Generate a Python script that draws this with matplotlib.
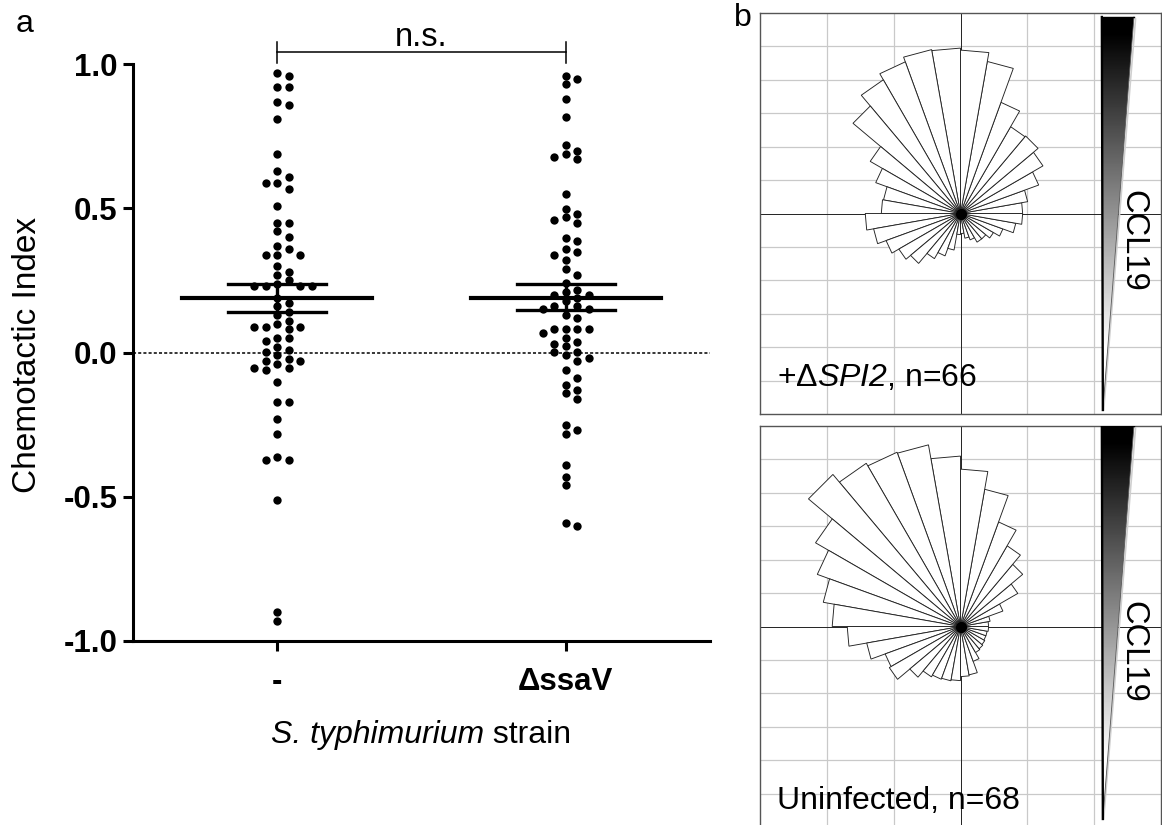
import numpy as np
import matplotlib.pyplot as plt
from matplotlib.patches import Polygon

plt.rcParams['font.family'] = ['Liberation Sans', 'DejaVu Sans']
plt.rcParams['mathtext.fontset'] = 'custom'
plt.rcParams['mathtext.rm'] = 'Liberation Sans'
plt.rcParams['mathtext.it'] = 'Liberation Sans:italic'
plt.rcParams['mathtext.sf'] = 'Liberation Sans:italic'  # italic incl. digits
plt.rcParams['mathtext.bf'] = 'Liberation Sans:bold'

# --- panel a: chemotactic index of single cells ---
strains = ['-', 'ΔssaV']
ci_wt = [0.969, 0.959, 0.919, 0.919, 0.868, 0.859, 0.808, 0.689, 0.628, 0.608,
         0.588, 0.588, 0.568, 0.508, 0.449, 0.449, 0.42, 0.40, 0.368, 0.359,
         0.338, 0.338, 0.338, 0.299, 0.278, 0.269, 0.25, 0.239, 0.23, 0.23,
         0.23, 0.23, 0.19, 0.17, 0.16, 0.14, 0.131, 0.11, 0.10, 0.089,
         0.089, 0.089, 0.08, 0.05, 0.05, 0.04, 0.02, 0.01, 0.001, -0.01,
         -0.022, -0.031, -0.031, -0.04, -0.052, -0.052, -0.061, -0.102, -0.171, -0.171,
         -0.231, -0.282, -0.362, -0.371, -0.371, -0.512, -0.90, -0.93]
ci_ssav = [0.958, 0.949, 0.93, 0.877, 0.817, 0.718, 0.699, 0.687, 0.678, 0.669,
           0.549, 0.496, 0.479, 0.469, 0.459, 0.449, 0.397, 0.388, 0.359, 0.349,
           0.339, 0.319, 0.289, 0.268, 0.242, 0.218, 0.21, 0.201, 0.201, 0.19,
           0.178, 0.16, 0.16, 0.151, 0.151, 0.129, 0.12, 0.08, 0.08, 0.08,
           0.08, 0.068, 0.05, 0.038, 0.029, 0.022, 0.001, 0.001, -0.01, -0.02,
           -0.03, -0.061, -0.088, -0.111, -0.131, -0.14, -0.161, -0.252, -0.27, -0.281,
           -0.39, -0.43, -0.46, -0.59, -0.60]
ci_mean = [0.19, 0.19]
ci_sem_hi = [0.239, 0.236]
ci_sem_lo = [0.142, 0.149]

# --- panel b: rose plots, 10 degree bins counterclockwise from east ---
bin_start_deg = np.arange(0, 360, 10)
rose_spi2 = [0.31, 0.34, 0.415, 0.475, 0.505, 0.50, 0.59, 0.77, 0.815, 0.825,
             0.83, 0.805, 0.77, 0.70, 0.52, 0.45, 0.39, 0.395, 0.475, 0.44,
             0.395, 0.355, 0.325, 0.26, 0.225, 0.185, 0.105, 0.10, 0.125, 0.14,
             0.165, 0.165, 0.19, 0.225, 0.28, 0.31]
rose_uninf = [0.14, 0.15, 0.225, 0.33, 0.405, 0.465, 0.555, 0.695, 0.785, 0.85,
              0.92, 0.925, 0.94, 0.99, 0.835, 0.76, 0.695, 0.64, 0.565, 0.475,
              0.40, 0.41, 0.33, 0.29, 0.28, 0.275, 0.27, 0.25, 0.245, 0.185,
              0.15, 0.145, 0.14, 0.135, 0.135, 0.14]
rose_labels = ['+Δ$\\mathsf{SPI2}$, n=66', 'Uninfected, n=68']


def swarm_offsets(values, step, gap):
    # greedy column placement like a dot plot
    order = np.argsort(values)[::-1]
    cols = {}
    offs = np.zeros(len(values))
    cands = [0]
    for n in range(1, 12):
        cands += [n, -n]
    for i in order:
        v = values[i]
        for c in cands:
            if all(abs(v - u) >= gap for u in cols.get(c, [])):
                break
        cols.setdefault(c, []).append(v)
        offs[i] = c * step
    return offs


W, H = 1162, 825
fig = plt.figure(figsize=(W / 100, H / 100), dpi=100)

ax = fig.add_axes([133 / W, (H - 641) / H, 577 / W, 577 / H])
for k, vals in enumerate([ci_wt, ci_ssav]):
    vals = np.array(vals)
    xs = k + 1 + swarm_offsets(vals, 0.04, 0.027)
    ax.scatter(xs, vals, s=36, color='black', linewidths=0, zorder=3)
    ax.plot([k + 1 - 0.33, k + 1 + 0.33], [ci_mean[k]] * 2, color='black', lw=3, zorder=4)
    for yv in (ci_sem_hi[k], ci_sem_lo[k]):
        ax.plot([k + 1 - 0.17, k + 1 + 0.17], [yv] * 2, color='black', lw=2.4, zorder=4)
    ax.plot([k + 1, k + 1], [ci_sem_lo[k], ci_sem_hi[k]], color='black', lw=2.4, zorder=4)

ax.axhline(0, color='black', lw=1.1, ls=(0, (2, 1.4)), zorder=1)
ax.set_xlim(0.5, 2.5)
ax.set_ylim(-1, 1)
ax.set_yticks([-1, -0.5, 0, 0.5, 1])
ax.set_yticklabels(['-1.0', '-0.5', '0.0', '0.5', '1.0'])
ax.set_xticks([1, 2])
ax.set_xticklabels(strains)
for s in ['top', 'right']:
    ax.spines[s].set_visible(False)
for s in ['left', 'bottom']:
    ax.spines[s].set_linewidth(2.2)
ax.tick_params(axis='both', direction='out', length=7, width=2.2, labelsize=22.5)
ax.tick_params(axis='y', pad=4)
ax.tick_params(axis='x', pad=12)
for t in ax.get_xticklabels() + ax.get_yticklabels():
    t.set_fontweight('bold')

ax.text(-0.182, 0.495, 'Chemotactic Index', transform=ax.transAxes, rotation=90,
        ha='center', va='center', fontsize=24)

# x label: italic species name followed by plain "strain", centred as a whole
renderer = fig.canvas.get_renderer()
xl1 = ax.text(0.5, -0.176, 'S. typhimurium', transform=ax.transAxes, fontstyle='italic',
              ha='left', va='baseline', fontsize=23)
xl2 = ax.annotate(' strain', xy=(1, 0), xycoords=xl1, ha='left', va='bottom', fontsize=23)
w1 = xl1.get_window_extent(renderer).width
w2 = xl2.get_window_extent(renderer).width
ax_w = ax.get_window_extent(renderer).width
xl1.set_x(0.5 - (w1 + w2) / 2 / ax_w)

# significance bracket
ax.plot([1, 2], [1.04, 1.04], color='black', lw=1.1, clip_on=False)
for xb in (1, 2):
    ax.plot([xb, xb], [1.003, 1.075], color='black', lw=1.1, clip_on=False)
ax.text(1.5, 1.061, 'n.s.', ha='center', va='baseline', fontsize=23.5)

fig.text(16 / W, 1 - 24 / H, 'a', fontsize=23, ha='left', va='center')
fig.text(734 / W, 1 - 18 / H, 'b', fontsize=23, ha='left', va='center')

# rose panels
rose_rects = [[760 / W, (H - 414) / H, 401 / W, 401 / H],
              [760 / W, (H - 827) / H, 401 / W, 401 / H]]
wedges = [[(0.705, 0.98), (0.865, 0.98), (0.71, -0.98)],
          [(0.705, 1.0), (0.865, 1.0), (0.71, -0.96)]]
ccl_y = [-0.135, -0.125]
label_y = [-0.86, -0.91]

t = np.linspace(0, 1, 300)
grad = np.clip((t - 0.04) / 0.80, 0, 1).reshape(-1, 1)

for p, radii in enumerate([rose_spi2, rose_uninf]):
    rx = fig.add_axes(rose_rects[p])
    rx.set_xticks([])
    rx.set_yticks([])
    for s in rx.spines.values():
        s.set_color('#555555')
        s.set_linewidth(1)
    for v in [-2 / 3, -1 / 3, 1 / 3, 2 / 3]:
        rx.axvline(v, color='#c9c9c9', lw=0.9, zorder=0)
    for k in range(1, 6):
        rx.axhline(k / 6, color='#c9c9c9', lw=0.9, zorder=0)
        rx.axhline(-k / 6, color='#c9c9c9', lw=0.9, zorder=0)
    rx.axvline(0, color='#222222', lw=0.7, zorder=1)
    rx.axhline(0, color='#222222', lw=0.7, zorder=1)

    for a0, r in zip(bin_start_deg, radii):
        a1 = np.radians(a0)
        a2 = np.radians(a0 + 10)
        tri = Polygon([(0, 0), (r * np.cos(a1), r * np.sin(a1)), (r * np.cos(a2), r * np.sin(a2))],
                      closed=True, facecolor='white', edgecolor='#222222', lw=0.65, zorder=2)
        rx.add_patch(tri)
    # dark hub where all the wedge edges meet
    rx.plot(0, 0, 'o', color='black', ms=7, zorder=2.5)

    wp = wedges[p]
    clip = Polygon(wp, closed=True, facecolor='none', edgecolor='none', zorder=3)
    rx.add_patch(clip)
    im = rx.imshow(grad, cmap='gray', vmin=0, vmax=1, aspect='auto', zorder=3,
                   extent=[wp[0][0], wp[1][0], wp[2][1], wp[0][1]])
    im.set_clip_path(clip)
    rx.plot([wp[1][0] + 0.008, wp[2][0] + 0.004], [wp[1][1] - 0.01, wp[2][1]], color='#cfcfcf', lw=1.2, zorder=3)
    rx.plot([wp[1][0], wp[2][0]], [wp[1][1], wp[2][1]], color='#555555', lw=0.6, zorder=4)
    rx.plot([wp[0][0], wp[2][0]], [wp[0][1], wp[2][1]], color='black', lw=1.7, zorder=4)
    rx.plot([wp[0][0], wp[1][0]], [wp[0][1], wp[1][1]], color='black', lw=1.0, zorder=4)

    rx.text(0.862, ccl_y[p], 'CCL19', rotation=270, ha='center', va='center', fontsize=23.5, zorder=5)
    rx.text(-0.915, label_y[p], rose_labels[p], ha='left', va='baseline', fontsize=23, zorder=5)
    rx.set_xlim(-1, 1)
    rx.set_ylim(-1, 1)

fig.savefig('out.png', dpi=100)
